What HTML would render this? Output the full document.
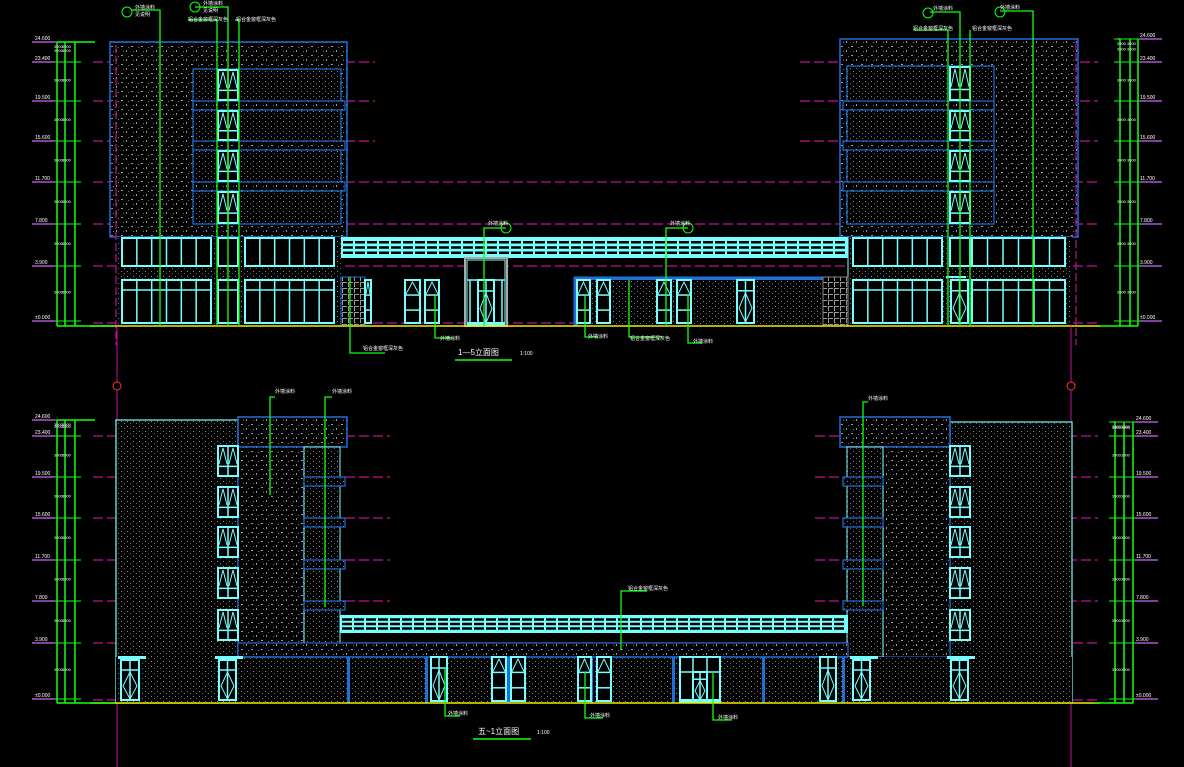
<!DOCTYPE html>
<html><head><meta charset="utf-8">
<style>
html,body{margin:0;padding:0;background:#000;}
svg{display:block;}
text{font-family:"Liberation Sans","Noto Sans CJK SC",sans-serif;fill:#fff;}
</style></head>
<body>
<svg id="s" width="1184" height="767" viewBox="0 0 1184 767" xmlns="http://www.w3.org/2000/svg">
<defs>
<pattern id="fine" width="6" height="5" patternUnits="userSpaceOnUse">
<rect width="6" height="5" fill="#000"/><rect x="1" y="1" width="1" height="1" fill="#8a8a8a"/><rect x="4" y="3" width="1" height="1" fill="#6a6a6a"/>
</pattern>
<pattern id="coarse" width="10" height="9" patternUnits="userSpaceOnUse">
<rect width="10" height="9" fill="#000"/><rect x="1" y="1" width="2" height="1" fill="#9a9a9a"/><rect x="6" y="5" width="1" height="2" fill="#9a9a9a"/><rect x="3" y="6" width="1" height="1" fill="#777"/><rect x="8" y="2" width="1" height="1" fill="#777"/>
</pattern>
<pattern id="grid" width="6" height="6" patternUnits="userSpaceOnUse">
<rect width="6" height="6" fill="#000"/><path d="M0 0.5H5M0.5 0V5" stroke="#9a9a9a" stroke-width="1"/>
</pattern>
</defs>
<g id="g"></g>
<!-- titles and labels -->
<text x="458" y="355" font-size="8">1—5立面图</text>
<text x="520" y="355" font-size="5">1:100</text>
<text x="478" y="734" font-size="8">五~1立面图</text>
<text x="537" y="734" font-size="5">1:100</text>
<text x="135" y="9" font-size="5">外墙涂料</text><text x="135" y="16" font-size="5">见说明</text>
<text x="203" y="5" font-size="5">外墙涂料</text><text x="203" y="12" font-size="5">见说明</text>
<text x="188" y="21" font-size="5">铝合金窗框深灰色</text><text x="236" y="21" font-size="5">铝合金窗框深灰色</text>
<text x="933" y="10" font-size="5">外墙涂料</text><text x="1000" y="9" font-size="5">外墙涂料</text>
<text x="913" y="30" font-size="5">铝合金窗框深灰色</text><text x="972" y="30" font-size="5">铝合金窗框深灰色</text>
<text x="488" y="225" font-size="5">外墙涂料</text><text x="670" y="225" font-size="5">外墙涂料</text>
<text x="363" y="350" font-size="5">铝合金窗框深灰色</text><text x="440" y="340" font-size="5">外墙涂料</text>
<text x="588" y="338" font-size="5">外墙涂料</text><text x="630" y="340" font-size="5">铝合金窗框深灰色</text><text x="693" y="343" font-size="5">外墙涂料</text>
<text x="275" y="393" font-size="5">外墙涂料</text><text x="332" y="393" font-size="5">外墙涂料</text>
<text x="868" y="400" font-size="5">外墙涂料</text><text x="628" y="590" font-size="5">铝合金窗框深灰色</text>
<text x="448" y="715" font-size="5">外墙涂料</text><text x="590" y="717" font-size="5">外墙涂料</text><text x="718" y="719" font-size="5">外墙涂料</text>
</svg>
<script>
var g=document.getElementById('g'),h='';
function r(x,y,w,hh,st,f,sw){h+='<rect x="'+x+'" y="'+y+'" width="'+w+'" height="'+hh+'" fill="'+(f||'none')+'" stroke="'+(st||'none')+'" stroke-width="'+(sw||1)+'"/>';}
function l(x1,y1,x2,y2,st,sw,da){h+='<line x1="'+x1+'" y1="'+y1+'" x2="'+x2+'" y2="'+y2+'" stroke="'+st+'" stroke-width="'+(sw||1)+'"'+(da?' stroke-dasharray="'+da+'"':'')+'/>';}
function t(x,y,s,sz){h+='<text x="'+x+'" y="'+y+'" font-size="'+(sz||5)+'">'+s+'</text>';}
var C='#7ff',B='#1e6fd9',M='#c0109a',G='#1f1',Y='#ee0';
function win(x,y,w,hh,n,tr){r(x,y,w,hh,C,'#000',2);for(var i=1;i<n;i++){var xx=x+w*i/n;l(xx,y,xx,y+hh,C,1.5);}if(tr)l(x,y+tr,x+w,y+tr,C,1.5);}
function vwin(x,y,w,hh){r(x,y,w,hh,C,'#000',2);l(x+w/2,y,x+w/2,y+hh,C,1.5);l(x,y+hh*0.68,x+w,y+hh*0.68,C,1.5);
 h+='<path d="M'+(x+1)+' '+(y+hh*0.6)+'L'+(x+w/4)+' '+(y+2)+'L'+(x+w/2-1)+' '+(y+hh*0.6)+'M'+(x+w/2+1)+' '+(y+hh*0.6)+'L'+(x+w*3/4)+' '+(y+2)+'L'+(x+w-1)+' '+(y+hh*0.6)+'" stroke="'+C+'" fill="none"/>';}
function dwin(x,y,w,hh){r(x,y,w,hh,C,'#000',2);l(x+w/2,y,x+w/2,y+hh,C,1.5);l(x,y+hh*0.25,x+w,y+hh*0.25,C,1.5);
 h+='<path d="M'+(x+w/2)+' '+(y+hh*0.3)+'L'+(x+w-2)+' '+(y+hh*0.65)+'L'+(x+w/2)+' '+(y+hh-1)+'L'+(x+2)+' '+(y+hh*0.65)+'Z" stroke="'+C+'" fill="none"/>';}
function awin(x,y,w,hh){r(x,y,w,hh,C,'#000',2);l(x,y+hh*0.35,x+w,y+hh*0.35,C,1.5);l(x,y+hh*0.7,x+w,y+hh*0.7,C,1.5);
 h+='<path d="M'+(x+1)+' '+(y+hh*0.33)+'L'+(x+w/2)+' '+(y+2)+'L'+(x+w-1)+' '+(y+hh*0.33)+'" stroke="'+C+'" fill="none"/>';}
function canopy(x,y,w,hh){r(x,y,w,hh,null,C);[0.25,0.5,0.75].forEach(function(f){l(x+2,y+hh*f,x+w-2,y+hh*f,'#000',2.5,'10 2');});}
function ladder(xs,top,bot,levels,side,txs){xs.forEach(function(x){l(x,top,x,bot,G,1.5);});
 l(xs[0],top,xs[2]+(side<0?20:-20),top,G,1.5);l(xs[0]-(side<0?0:20),bot,xs[2]+(side<0?40:0),bot,G,1.5);
 levels.forEach(function(y,i){xs.forEach(function(x){l(x-6,y,x+6,y,G,1);});
  var mx=side<0?xs[0]-2:xs[2]+2;l(side<0?txs-3:mx,y,side<0?mx:txs+22,y,'#c6f',1.2);
  t(txs,y-2,['±0.000','3.900','7.800','11.700','15.600','19.500','23.400','24.600'][levels.length-1-i]||'0.000',5);
  for(var k=0;k<2;k++){var xx=xs[k]+3,yy=(i>0?(y+levels[i-1])/2:y+6);t(xx-6,yy,'3900',4);}});}

// ===== TOP ELEVATION =====
// magenta dashed level lines
[62,101,141].forEach(function(y){l(93,y,375,y,M,1.2,'10 4');l(800,y,1098,y,M,1.2,'10 4');});
[182,224,266,323].forEach(function(y){l(93,y,1098,y,M,1.2,'10 4');});
// left building
r(110,42,237,195,B,'url(#coarse)',1.5);
r(193,69,148,155,B,'url(#fine)',1.2);
[101,141,182].forEach(function(y){r(193,y,152,9,B,'url(#coarse)',1.2);});
[[69,32],[110,31],[150,32],[191,33]].forEach(function(a){vwin(218,a[0]+1,20,a[1]-2);});
r(116,237,225,89,null,'url(#fine)');
win(122,238,89,28,6);win(218,238,20,28,1);win(245,238,89,28,6);
win(122,280,89,43,6,10);win(218,280,20,43,1,10);win(245,280,89,43,6,10);
l(116,45,116,345,M,1.2,'8 3');
// right building
r(840,39,238,198,B,'url(#coarse)',1.5);
r(847,66,147,158,B,'url(#fine)',1.2);
[101,141,182].forEach(function(y){r(843,y,151,9,B,'url(#coarse)',1.2);});
[[66,35],[110,31],[150,32],[191,33]].forEach(function(a){vwin(950,a[0]+1,20,a[1]-2);});
r(848,237,224,89,null,'url(#fine)');l(848,237,848,326,C,1);
win(853,238,89,28,6);win(950,238,20,28,1);win(972,238,93,28,6);
win(853,280,89,43,6,10);dwin(951,280,17,43);r(946,276,20,2,null,C);win(972,280,93,43,6,10);
l(1076,42,1076,345,M,1.2,'8 3');
// center
canopy(341,237,507,21);
r(341,277,24,49,B,'url(#grid)',1);awin(365,280,6,43);
awin(405,280,15,43);awin(425,280,14,43);
r(465,258,42,68,'#aaa','#000',2);r(467,260,38,64,C,'none',1);l(467,280,505,280,C,1.5);dwin(478,280,16,44);l(470,280,470,324,C,1.5);l(502,280,502,324,C,1.5);r(467,322,38,4,null,C);
r(574,277,249,49,B,'url(#fine)',1);r(574,277,4,49,null,B);r(574,277,249,3,null,B);
awin(577,280,13,43);awin(597,280,13,43);awin(657,280,14,43);awin(677,280,14,43);dwin(737,280,17,43);
r(823,277,25,49,'#888','url(#grid)',1);
l(90,326,1100,326,Y,1.5);
// ladders top
ladder([57,65,75],42,326,[42,62,101,141,182,224,266,321],-1,35);
ladder([1120,1130,1138],39,326,[39,62,101,141,182,224,266,321],1,1140);
// leaders top
function leader(pts){h+='<polyline points="'+pts+'" stroke="'+G+'" fill="none" stroke-width="1.3"/>';}
leader('131,10 160,10 160,326');leader('195,7 228,7 228,326');leader('188,20 217,20 217,326');leader('235,20 239,20 239,326');
leader('930,12 960,12 960,326');leader('1000,11 1033,11 1033,326');leader('913,30 948,30 948,326');leader('970,30 970,326');
h+='<circle cx="127" cy="12" r="5" stroke="'+G+'" fill="none"/><circle cx="195" cy="7" r="5" stroke="'+G+'" fill="none"/><circle cx="928" cy="13" r="5" stroke="'+G+'" fill="none"/><circle cx="1000" cy="12" r="5" stroke="'+G+'" fill="none"/>';
h+='<circle cx="506" cy="228" r="5" stroke="'+G+'" fill="none"/><circle cx="688" cy="228" r="5" stroke="'+G+'" fill="none"/>';
leader('506,228 484,228 484,326');leader('688,228 666,228 666,326');
leader('350,277 350,353 385,353');leader('435,296 435,338 452,338');leader('585,296 585,337 598,337');leader('629,280 629,337 662,337');leader('688,296 688,343 702,343');
l(455,360,512,360,G,1.5);
// axes
l(117,326,117,382,M,1);l(1071,326,1071,382,M,1);
h+='<circle cx="117" cy="386" r="4" stroke="#f33" fill="none"/><circle cx="1071" cy="386" r="4" stroke="#f33" fill="none"/>';
l(117,390,117,767,M,1);l(1071,390,1071,767,M,1);

// ===== BOTTOM ELEVATION =====
[436,477,518,560,601].forEach(function(y){l(93,y,390,y,M,1.2,'10 4');l(815,y,1098,y,M,1.2,'10 4');});
[643,700].forEach(function(y){l(93,y,1098,y,M,1.2,'10 4');});
// left
r(116,420,122,283,C,'url(#fine)',1.2);
r(238,417,109,30,B,'url(#coarse)',1.5);
r(238,447,66,210,B,'url(#coarse)',1.2);
r(304,447,36,210,C,'url(#fine)',1);
[477,518,560,601].forEach(function(y){r(304,y,41,9,B,'url(#fine)',1.2);});
[446,487,527,568,610].forEach(function(y){vwin(218,y,20,30);});
// right
r(950,422,122,281,C,'url(#fine)',1.2);
r(840,417,110,30,B,'url(#coarse)',1.5);
r(883,447,67,210,B,'url(#coarse)',1.2);
r(847,447,36,210,C,'url(#fine)',1);
[477,518,560,601].forEach(function(y){r(843,y,40,9,B,'url(#fine)',1.2);});
[446,487,527,568,610].forEach(function(y){vwin(950,y,20,30);});
// center
canopy(340,615,508,18);
r(238,643,610,14,B,'url(#coarse)',1.2);
r(116,657,956,46,null,'url(#fine)');r(116,657,956,46,null,'none');
l(238,657,848,657,B,1.5);
[347,425,507,590,672,762,842].forEach(function(x){r(x,657,3,46,null,B);});
dwin(121,660,18,40);r(118,656,28,3,null,C);dwin(219,660,17,40);r(215,656,28,3,null,C);
dwin(431,657,16,44);awin(492,657,14,44);awin(511,657,14,44);awin(578,657,13,44);awin(597,657,14,44);
r(680,657,40,45,C,'#000',2);l(693,657,693,701,C,1.5);l(707,657,707,701,C,1.5);l(680,672,720,672,C,1.5);dwin(693,672,14,29);r(681,699,38,3,null,C);
dwin(820,657,16,44);dwin(853,660,17,40);r(850,656,28,3,null,C);dwin(951,660,17,40);r(947,656,28,3,null,C);
l(90,703,1100,703,Y,1.5);
ladder([57,65,75],420,703,[420,436,477,518,560,601,643,699],-1,35);
ladder([1115,1124,1133],422,703,[422,436,477,518,560,601,643,699],1,1136);
leader('275,397 270,397 270,495');leader('332,397 325,397 325,607');leader('868,402 863,402 863,606');
leader('647,591 621,591 621,650');leader('445,668 445,716 460,716');leader('585,672 585,718 603,718');leader('713,672 713,720 732,720');
l(473,739,531,739,G,1.5);
g.innerHTML=h;
</script>
</body></html>
